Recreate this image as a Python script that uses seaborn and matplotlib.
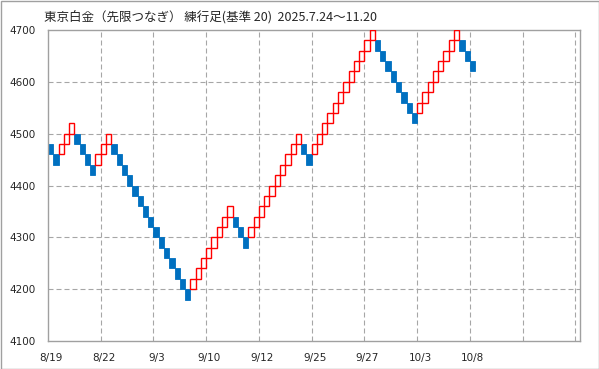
import numpy as np
import pandas as pd
import matplotlib
matplotlib.use("Agg")
import matplotlib.pyplot as plt
import matplotlib.transforms as mtransforms
from matplotlib.patches import Rectangle
import seaborn as sns

# Renko bricks (box size 20): lower edge of each brick, in order
brick_low = [4460, 4440,
             4460, 4480, 4500,
             4480, 4460, 4440, 4420,
             4440, 4460, 4480,
             4460, 4440, 4420, 4400, 4380, 4360, 4340, 4320, 4300, 4280, 4260, 4240, 4220, 4200, 4180,
             4200, 4220, 4240, 4260, 4280, 4300, 4320, 4340,
             4320, 4300, 4280,
             4300, 4320, 4340, 4360, 4380, 4400, 4420, 4440, 4460, 4480,
             4460, 4440,
             4460, 4480, 4500, 4520, 4540, 4560, 4580, 4600, 4620, 4640, 4660, 4680,
             4660, 4640, 4620, 4600, 4580, 4560, 4540, 4520,
             4540, 4560, 4580, 4600, 4620, 4640, 4660, 4680,
             4660, 4640, 4620]
# direction of each brick: U = up (red outline), D = down (blue filled)
direction = list("DD" "UUU" "DDDD" "UUU" "DDDDDDDDDDDDDDD" "UUUUUUUU" "DDD"
                 "UUUUUUUUUU" "DD" "UUUUUUUUUUUU" "DDDDDDDD" "UUUUUUUU" "DDD")
box_size = 20
x_tick_labels = ["8/19", "8/22", "9/3", "9/10", "9/12", "9/25", "9/27", "10/3", "10/8", "", ""]
y_ticks = [4100, 4200, 4300, 4400, 4500, 4600, 4700]
title = "東京白金（先限つなぎ） 練行足(基準 20)  2025.7.24～11.20"

df = pd.DataFrame({"pos": np.arange(len(brick_low)) + 0.5,
                   "low": brick_low,
                   "dir": direction})
df["size"] = box_size

sns.set_style("white")
plt.rcParams["font.family"] = ["DejaVu Sans"]

W, H = 599, 369
fig = plt.figure(figsize=(W / 100, H / 100), dpi=100)
ax = fig.add_axes([48 / W, 1 - 341 / H, (580 - 48) / W, (341 - 30) / H])

grid_color = "#A6A6A6"
ax.set_axisbelow(True)
for yv in y_ticks[1:-1]:
    ax.axhline(yv, color=grid_color, lw=0.8, ls=(0, (4.5, 2.7)), zorder=0)
for xv in range(10, 101, 10):
    ax.axvline(xv, color=grid_color, lw=0.8, ls=(0, (4.5, 2.7)), zorder=0)

down = df[df["dir"] == "D"]
up = df[df["dir"] == "U"]
sns.barplot(data=down, x="pos", y="size", native_scale=True, width=1.0,
            color="#0070C0", saturation=1, bottom=down["low"].to_numpy(),
            errorbar=None, edgecolor="#0070C0", linewidth=0.6, ax=ax, zorder=2)
sns.barplot(data=up, x="pos", y="size", native_scale=True, width=1.0,
            fill=False, color="#FF0000", bottom=up["low"].to_numpy(),
            errorbar=None, linewidth=1.0, ax=ax, zorder=3)

ax.set_xlim(0, 100.9)
ax.set_ylim(4100, 4700)
ax.set_xlabel("")
ax.set_ylabel("")
ax.set_yticks(y_ticks)
ax.set_yticklabels([str(v) for v in y_ticks], fontsize=7.5)
ax.set_xticks(range(0, 101, 10))
ax.set_xticklabels(x_tick_labels, fontsize=7.5)
ax.tick_params(axis="y", length=6, width=0.8, color="#999999", pad=3, direction="out")
ax.tick_params(axis="x", length=0, pad=9)
offset = mtransforms.ScaledTranslation(3 / 100, 0, fig.dpi_scale_trans)
for lbl in ax.get_xticklabels():
    lbl.set_transform(lbl.get_transform() + offset)

for side in ["left", "bottom", "top", "right"]:
    ax.spines[side].set_visible(True)
    ax.spines[side].set_color("#A0A0A0")
    ax.spines[side].set_linewidth(1.0)

fig.text(44 / W, 1 - 16.5 / H, title, fontsize=9, va="center", ha="left",
         family=["Noto Sans CJK JP", "DejaVu Sans"])

fig.add_artist(Rectangle((0.5 / W, 0.5 / H), 1 - 1 / W, 1 - 1 / H, transform=fig.transFigure,
                         fill=False, edgecolor="#A0A0A0", linewidth=1.0))

fig.savefig("out.png", dpi=100)
